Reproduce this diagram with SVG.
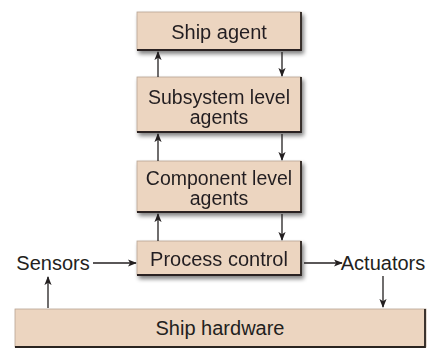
<svg xmlns="http://www.w3.org/2000/svg" width="428" height="349" viewBox="0 0 428 349">
<style>
.box{fill:#ecd5c0;stroke:#b8a493;stroke-width:0.8}
.edge{fill:none;stroke:#2a2420;stroke-width:1.8}
.t{font-family:"Liberation Sans",Arial,sans-serif;font-size:20px;fill:#231f20;text-anchor:middle}
.t2{font-size:19.5px}
.c{stroke:#231f20;stroke-width:1.3;fill:none}
</style>
<defs>
<marker id="ah" viewBox="0 0 10 10" refX="9" refY="5" markerWidth="9" markerHeight="9" orient="auto" markerUnits="userSpaceOnUse">
<path d="M0,1 L10,5 L0,9 L2.5,5 z" fill="#231f20"/>
</marker>
<filter id="sh" x="-10%" y="-20%" width="130%" height="160%">
<feGaussianBlur in="SourceAlpha" stdDeviation="2"/>
<feOffset dx="2" dy="3"/>
<feComponentTransfer><feFuncA type="linear" slope="0.5"/></feComponentTransfer>
<feMerge><feMergeNode/><feMergeNode in="SourceGraphic"/></feMerge>
</filter>
</defs>
<g id="ship-agent" filter="url(#sh)">
<rect class="box" x="137" y="12" width="164" height="38"/>
<path class="edge" d="M301,12 V50 H137"/>
<text class="t" x="219" y="39">Ship agent</text>
</g>
<g id="subsystem" filter="url(#sh)">
<rect class="box" x="137" y="77" width="164" height="55"/>
<path class="edge" d="M301,77 V132 H137"/>
<text class="t t2" x="219" y="104">Subsystem level</text>
<text class="t t2" x="219" y="124">agents</text>
</g>
<g id="component" filter="url(#sh)">
<rect class="box" x="137" y="161" width="164" height="51"/>
<path class="edge" d="M301,161 V212 H137"/>
<text class="t t2" x="219" y="185">Component level</text>
<text class="t t2" x="219" y="205">agents</text>
</g>
<g id="process" filter="url(#sh)">
<rect class="box" x="137" y="241" width="164" height="34"/>
<path class="edge" d="M301,241 V275 H137"/>
<text class="t" x="219" y="266">Process control</text>
</g>
<g id="hardware">
<rect class="box" x="15" y="309" width="411" height="38"/>
<path class="edge" d="M425,309 V347 H15"/>
<text class="t" x="220" y="335">Ship hardware</text>
</g>
<g id="sensors"><text class="t" x="53" y="270">Sensors</text></g>
<g id="actuators"><text class="t" x="383" y="270">Actuators</text></g>
<g id="connectors">
<line class="c" x1="158" y1="77" x2="158" y2="52" marker-end="url(#ah)"/>
<line class="c" x1="282" y1="52" x2="282" y2="76" marker-end="url(#ah)"/>
<line class="c" x1="158" y1="161" x2="158" y2="134" marker-end="url(#ah)"/>
<line class="c" x1="282" y1="134" x2="282" y2="160" marker-end="url(#ah)"/>
<line class="c" x1="158" y1="241" x2="158" y2="214" marker-end="url(#ah)"/>
<line class="c" x1="282" y1="214" x2="282" y2="240" marker-end="url(#ah)"/>
<line class="c" x1="93" y1="263" x2="136" y2="263" marker-end="url(#ah)"/>
<line class="c" x1="304" y1="263" x2="342" y2="263" marker-end="url(#ah)"/>
<line class="c" x1="48" y1="308" x2="48" y2="277" marker-end="url(#ah)"/>
<line class="c" x1="383" y1="276" x2="383" y2="307" marker-end="url(#ah)"/>
</g>
</svg>
